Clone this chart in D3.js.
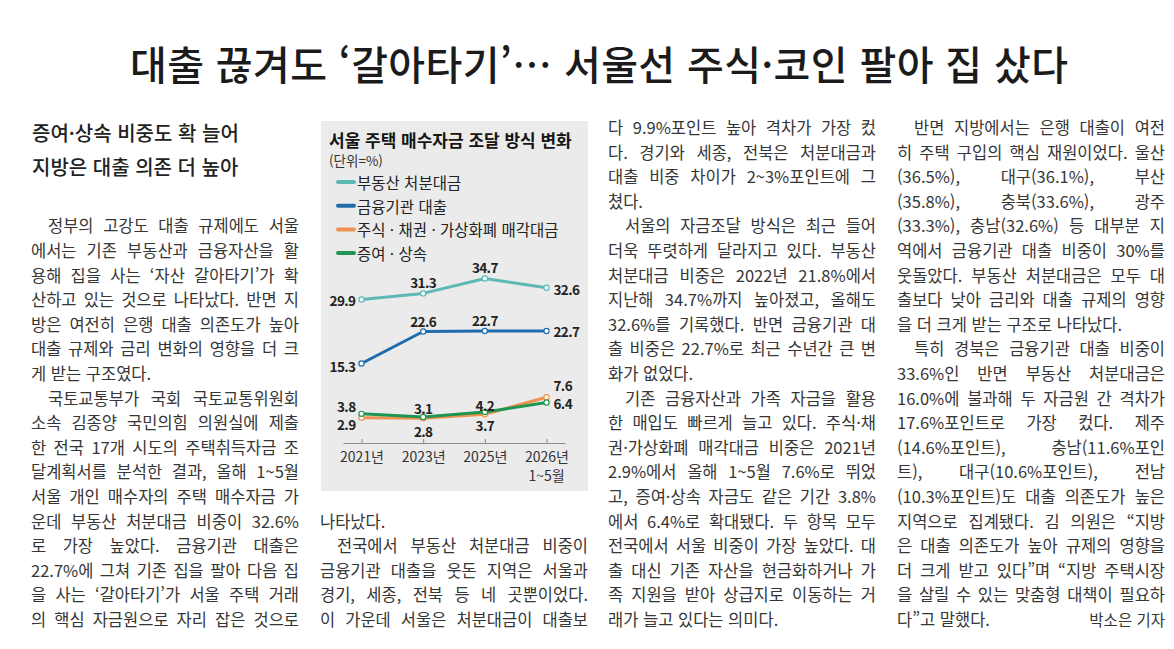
<!DOCTYPE html>
<html lang="ko">
<head>
<meta charset="utf-8">
<script src="https://cdn.jsdelivr.net/npm/d3@7"></script>
<style>
  body { margin: 0; background: #fff; }
  svg text { font-family: 'Noto Sans CJK KR', 'Noto Sans', sans-serif; }
</style>
</head>
<body>
<div id="page"></div>
<script>
const width = 1174
const height = 649

// 차트 데이터
const years = ['2021년', '2023년', '2025년', '2026년']
const yearNotes = ['', '', '', '1~5월']
const seriesNames = ['부동산 처분대금', '금융기관 대출', '주식 · 채권 · 가상화폐 매각대금', '증여 · 상속']
const realEstate = [29.9, 31.3, 34.7, 32.6]
const bankLoan = [15.3, 22.6, 22.7, 22.7]
const securities = [2.9, 2.8, 3.7, 7.6]
const giftInherit = [3.8, 3.1, 4.2, 6.4]

// 기사 텍스트 (앞 공백 2칸 = 들여쓰기, 끝의 | = 문단 끝)
const headline = '대출 끊겨도 ‘갈아타기’… 서울선 주식·코인 팔아 집 샀다'
const subheads = ['증여·상속 비중도 확 늘어', '지방은 대출 의존 더 높아']
const col1Lines = [
  '  정부의 고강도 대출 규제에도 서울',
  '에서는 기존 부동산과 금융자산을 활',
  '용해 집을 사는 ‘자산 갈아타기’가 확',
  '산하고 있는 것으로 나타났다. 반면 지',
  '방은 여전히 은행 대출 의존도가 높아',
  '대출 규제와 금리 변화의 영향을 더 크',
  '게 받는 구조였다.|',
  '  국토교통부가 국회 국토교통위원회',
  '소속 김종양 국민의힘 의원실에 제출',
  '한 전국 17개 시도의 주택취득자금 조',
  '달계획서를 분석한 결과, 올해 1~5월',
  '서울 개인 매수자의 주택 매수자금 가',
  '운데 부동산 처분대금 비중이 32.6%',
  '로 가장 높았다. 금융기관 대출은',
  '22.7%에 그쳐 기존 집을 팔아 다음 집',
  '을 사는 ‘갈아타기’가 서울 주택 거래',
  '의 핵심 자금원으로 자리 잡은 것으로'
]
const col2Lines = [
  '나타났다.|',
  '  전국에서 부동산 처분대금 비중이',
  '금융기관 대출을 웃돈 지역은 서울과',
  '경기, 세종, 전북 등 네 곳뿐이었다.',
  '이 가운데 서울은 처분대금이 대출보'
]
const col3Lines = [
  '다 9.9%포인트 높아 격차가 가장 컸',
  '다. 경기와 세종, 전북은 처분대금과',
  '대출 비중 차이가 2~3%포인트에 그',
  '쳤다.|',
  '  서울의 자금조달 방식은 최근 들어',
  '더욱 뚜렷하게 달라지고 있다. 부동산',
  '처분대금 비중은 2022년 21.8%에서',
  '지난해 34.7%까지 높아졌고, 올해도',
  '32.6%를 기록했다. 반면 금융기관 대',
  '출 비중은 22.7%로 최근 수년간 큰 변',
  '화가 없었다.|',
  '  기존 금융자산과 가족 자금을 활용',
  '한 매입도 빠르게 늘고 있다. 주식·채',
  '권·가상화폐 매각대금 비중은 2021년',
  '2.9%에서 올해 1~5월 7.6%로 뛰었',
  '고, 증여·상속 자금도 같은 기간 3.8%',
  '에서 6.4%로 확대됐다. 두 항목 모두',
  '전국에서 서울 비중이 가장 높았다. 대',
  '출 대신 기존 자산을 현금화하거나 가',
  '족 지원을 받아 상급지로 이동하는 거',
  '래가 늘고 있다는 의미다.|'
]
const col4Lines = [
  '  반면 지방에서는 은행 대출이 여전',
  '히 주택 구입의 핵심 재원이었다. 울산',
  '(36.5%), 대구(36.1%), 부산',
  '(35.8%), 충북(33.6%), 광주',
  '(33.3%), 충남(32.6%) 등 대부분 지',
  '역에서 금융기관 대출 비중이 30%를',
  '웃돌았다. 부동산 처분대금은 모두 대',
  '출보다 낮아 금리와 대출 규제의 영향',
  '을 더 크게 받는 구조로 나타났다.|',
  '  특히 경북은 금융기관 대출 비중이',
  '33.6%인 반면 부동산 처분대금은',
  '16.0%에 불과해 두 자금원 간 격차가',
  '17.6%포인트로 가장 컸다. 제주',
  '(14.6%포인트), 충남(11.6%포인',
  '트), 대구(10.6%포인트), 전남',
  '(10.3%포인트)도 대출 의존도가 높은',
  '지역으로 집계됐다. 김 의원은 “지방',
  '은 대출 의존도가 높아 규제의 영향을',
  '더 크게 받고 있다”며 “지방 주택시장',
  '을 살릴 수 있는 맞춤형 대책이 필요하',
  '다”고 말했다.|'
]
const byline = '박소은 기자'

const svg = d3.select('#page').append('svg').attr('width', width).attr('height', height)

// 제목
svg.append('text')
  .attr('x', 130).attr('y', 63)
  .attr('dominant-baseline', 'central')
  .attr('font-size', 40).attr('font-weight', 500)
  .attr('fill', '#1b1b1b')
  .attr('textLength', 938).attr('lengthAdjust', 'spacing')
  .text(headline)

// 본문
const colW = 268
const indentW = 17
const lineY = k => 127 + 24.6 * k
const bodyGroup = svg.append('g').attr('class', 'body')
  .attr('font-size', 16.5).attr('fill', '#363636')

// 양쪽 정렬: 띄어쓰기 간격을 늘려 칸 폭에 맞춘다
function justify(textSel, txt, x0, avail) {
  const words = txt.split(' ')
  if (words.length < 2) {
    textSel.text(txt).attr('textLength', avail).attr('lengthAdjust', 'spacing')
    return
  }
  const spans = textSel.selectAll('tspan').data(words).enter().append('tspan').text(d => d)
  const widths = spans.nodes().map(n => n.getComputedTextLength())
  const gap = (avail - d3.sum(widths)) / (words.length - 1)
  if (gap < 3) {
    textSel.selectAll('tspan').remove()
    textSel.text(txt).attr('textLength', avail).attr('lengthAdjust', 'spacing')
    return
  }
  let cx = x0
  spans.attr('x', (d, i) => {
    const pos = cx
    cx += widths[i] + gap
    return pos
  })
}

function drawColumn(x, startK, lines) {
  lines.forEach((raw, i) => {
    const indent = raw.startsWith('  ')
    const last = raw.endsWith('|')
    const txt = raw.trim().replace(/\|$/, '')
    const x0 = x + (indent ? indentW : 0)
    const t = bodyGroup.append('text')
      .attr('x', x0)
      .attr('y', lineY(startK + i))
      .attr('dominant-baseline', 'central')
    if (last) t.text(txt)
    else justify(t, txt, x0, colW - (indent ? indentW : 0))
  })
}

svg.append('g').selectAll('text').data(subheads).enter().append('text')
  .attr('x', 32).attr('y', (d, i) => 132 + i * 34)
  .attr('dominant-baseline', 'central')
  .attr('font-size', 20).attr('font-weight', 500).attr('fill', '#222')
  .text(d => d)

drawColumn(31, 4, col1Lines)
drawColumn(320, 16, col2Lines)
drawColumn(608, 0, col3Lines)
drawColumn(897, 0, col4Lines)

bodyGroup.append('text')
  .attr('x', 897 + colW).attr('y', lineY(20))
  .attr('dominant-baseline', 'central').attr('text-anchor', 'end')
  .attr('font-size', 15.5)
  .text(byline)

// 그래픽
const chart = svg.append('g').attr('class', 'chart')
chart.append('rect').attr('x', 321).attr('y', 121).attr('width', 267).attr('height', 370).attr('fill', '#ebebeb')

chart.append('text').attr('x', 329).attr('y', 139)
  .attr('dominant-baseline', 'central')
  .attr('font-size', 17).attr('font-weight', 'bold').attr('fill', '#151515')
  .text('서울 주택 매수자금 조달 방식 변화')
chart.append('text').attr('x', 329).attr('y', 160)
  .attr('dominant-baseline', 'central')
  .attr('font-size', 13.5).attr('fill', '#333')
  .text('(단위=%)')

const seriesValues = [realEstate, bankLoan, securities, giftInherit]
const seriesColors = ['#5cb9b3', '#1f6cad', '#ef9150', '#1f9552']

// 범례
const legend = chart.append('g').selectAll('g').data(seriesNames).enter().append('g')
  .attr('transform', (d, i) => `translate(338, ${182 + i * 23.7})`)
legend.append('line').attr('x1', 0).attr('x2', 16)
  .attr('stroke', (d, i) => seriesColors[i]).attr('stroke-width', 4).attr('stroke-linecap', 'round')
legend.append('text').attr('x', 19)
  .attr('dominant-baseline', 'central')
  .attr('font-size', 15.5).attr('fill', '#222')
  .text(d => d)

const x = d3.scalePoint().domain(years).range([343, 565]).padding(0.3)
const y = d3.scaleLinear().domain([0, 35]).range([430.5, 277.2])

const xAxis = d3.axisBottom(x).tickSizeInner(-4).tickSizeOuter(0).tickPadding(9)
const xAxisGroup = chart.append('g').attr('transform', 'translate(0, 443)').call(xAxis)
xAxisGroup.select('.domain').attr('stroke', '#8a8a8a')
xAxisGroup.selectAll('.tick line').attr('stroke', '#8a8a8a')
xAxisGroup.selectAll('.tick text')
  .attr('font-family', "'Noto Sans CJK KR', sans-serif")
  .attr('font-size', 14).attr('fill', '#333')
chart.append('g').selectAll('text').data(yearNotes).enter().append('text')
  .attr('x', (d, i) => x(years[i])).attr('y', 475)
  .attr('text-anchor', 'middle').attr('dominant-baseline', 'central')
  .attr('font-size', 14).attr('fill', '#333')
  .text(d => d)

// 선
const line = d3.line().x((d, i) => x(years[i])).y(d => y(d))
chart.append('g').selectAll('path').data(seriesValues).enter().append('path')
  .attr('d', d => line(d))
  .attr('fill', 'none')
  .attr('stroke', (d, i) => seriesColors[i])
  .attr('stroke-width', 3)
  .attr('stroke-linejoin', 'round')

const points = chart.append('g').selectAll('g').data(seriesValues).enter().append('g')
points.selectAll('circle').data((d, i) => d.map(v => ({ v, s: i }))).enter().append('circle')
  .attr('cx', (d, j) => x(years[j])).attr('cy', d => y(d.v))
  .attr('r', 2.6)
  .attr('fill', '#fff')
  .attr('stroke', d => seriesColors[d.s]).attr('stroke-width', 1.2)

// 수치 라벨 위치 [dx, dy, 정렬]
const labelOffsets = [
  [[-6, 0, 'end'], [0, -11, 'middle'], [0, -12, 'middle'], [7, 1, 'start']],
  [[-6, 3, 'end'], [0, -11, 'middle'], [0, -11, 'middle'], [7, 0, 'start']],
  [[-6, 6, 'end'], [0, 13, 'middle'], [0, 11, 'middle'], [7, -12, 'start']],
  [[-6, -8, 'end'], [0, -9, 'middle'], [0, -7, 'middle'], [7, 1, 'start']]
]
const labels = chart.append('g').attr('font-size', 13.5).attr('font-weight', 'bold').attr('fill', '#222')
  .attr('letter-spacing', -0.6)
seriesValues.forEach((vals, s) => {
  labels.selectAll(null).data(vals).enter().append('text')
    .attr('x', (d, j) => x(years[j]) + labelOffsets[s][j][0])
    .attr('y', (d, j) => y(d) + labelOffsets[s][j][1])
    .attr('text-anchor', (d, j) => labelOffsets[s][j][2])
    .attr('dominant-baseline', 'central')
    .text(d => d.toFixed(1))
})
</script>
</body>
</html>
